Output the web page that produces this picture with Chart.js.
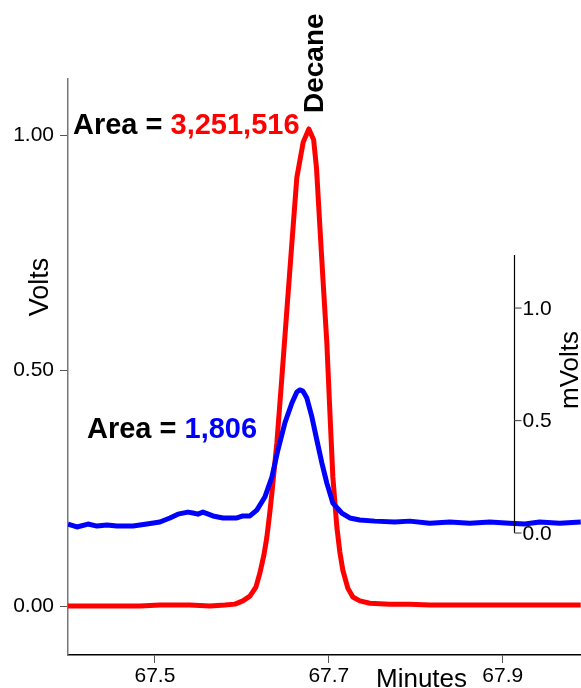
<!DOCTYPE html>
<html>
<head>
<meta charset="utf-8">
<title>Decane</title>
<script src="https://cdn.jsdelivr.net/npm/chart.js@4.4.0/dist/chart.umd.min.js"></script>
<style>
  html, body { margin: 0; padding: 0; background: #fff; }
  #chart { display: block; }
</style>
</head>
<body>
<canvas id="chart" width="581" height="688"></canvas>
<script>
// Red trace: Volts vs retention time (minutes)
const redTime = [67.400, 67.4368, 67.4828, 67.5057, 67.5402, 67.5632, 67.5805, 67.5920, 67.6011, 67.6092,
                 67.6161, 67.6207, 67.6253, 67.6287, 67.6322, 67.6345, 67.6402, 67.6460, 67.6517, 67.6575,
                 67.6632, 67.6705, 67.6770, 67.6825, 67.6858, 67.6897, 67.6931, 67.6977, 67.7011, 67.7046,
                 67.7092, 67.7126, 67.7161, 67.7218, 67.7276, 67.7356, 67.7471, 67.7701, 67.7931, 67.8161,
                 67.8736, 67.9310, 67.9897];
const redVolts = [0.000, 0.000, 0.000, 0.002, 0.002, 0.000, 0.002, 0.004, 0.011, 0.021,
                  0.040, 0.070, 0.108, 0.146, 0.200, 0.240, 0.346, 0.486, 0.628, 0.771,
                  0.910, 0.985, 1.013, 0.990, 0.930, 0.805, 0.698, 0.558, 0.416, 0.274,
                  0.168, 0.115, 0.076, 0.038, 0.019, 0.011, 0.006, 0.004, 0.004, 0.002,
                  0.002, 0.002, 0.002];

// Blue trace: mVolts vs retention time (minutes)
const blueTime = [67.4000, 67.4103, 67.4230, 67.4333, 67.4448, 67.4563, 67.4747, 67.4908, 67.5057, 67.5172,
                  67.5264, 67.5379, 67.5437, 67.5494, 67.5552, 67.5667, 67.5782, 67.5943, 67.6011, 67.6092,
                  67.6172, 67.6264, 67.6345, 67.6414, 67.6494, 67.6575, 67.6632, 67.6667, 67.6701, 67.6747,
                  67.6805, 67.6862, 67.6920, 67.6977, 67.7046, 67.7149, 67.7241, 67.7356, 67.7529, 67.7759,
                  67.7931, 67.8161, 67.8391, 67.8621, 67.8851, 67.9080, 67.9253, 67.9425, 67.9655, 67.9897];
const blueMv = [0.040, 0.027, 0.040, 0.031, 0.036, 0.031, 0.031, 0.040, 0.049, 0.067,
                0.084, 0.093, 0.089, 0.084, 0.093, 0.076, 0.067, 0.067, 0.076, 0.076,
                0.102, 0.160, 0.249, 0.369, 0.489, 0.578, 0.627, 0.636, 0.631, 0.600,
                0.516, 0.413, 0.311, 0.222, 0.133, 0.089, 0.067, 0.058, 0.053, 0.049,
                0.053, 0.044, 0.049, 0.044, 0.049, 0.044, 0.040, 0.049, 0.044, 0.049];

const minuteTicks = [67.5, 67.7, 67.9];
const voltTicks = [0, 0.5, 1.0];
const mvTicks = [0, 0.5, 1.0];

const peakName = 'Decane';
const redArea = '3,251,516';
const blueArea = '1,806';

const FONT = "'Liberation Sans', Arial, Helvetica, sans-serif";
const RED = '#ff0000';
const BLUE = '#0000ff';

// where the mVolts axis sits (in minutes) and how far up it runs (in mV)
const mvAxisAt = 67.9126;
const mvAxisTop = 1.236;

Chart.defaults.font.family = FONT;
Chart.defaults.color = '#000';

const toPoints = (xs, ys) => xs.map((x, i) => ({ x, y: ys[i] }));

// Draws the inner mVolts axis, axis titles and peak labels
const decorations = {
    id: 'decorations',
    afterDraw(chart) {
        const { ctx, scales: { x, y2 } } = chart;
        ctx.save();

        // mVolts axis inside the plot
        const ax = Math.round(x.getPixelForValue(mvAxisAt)) + 0.5;
        ctx.strokeStyle = '#000';
        ctx.lineWidth = 1.2;
        ctx.beginPath();
        ctx.moveTo(ax, y2.getPixelForValue(mvAxisTop));
        ctx.lineTo(ax, y2.getPixelForValue(0));
        ctx.stroke();
        ctx.strokeStyle = '#555';
        ctx.font = '21px ' + FONT;
        ctx.textAlign = 'left';
        ctx.textBaseline = 'middle';
        mvTicks.forEach(v => {
            const py = y2.getPixelForValue(v);
            ctx.beginPath();
            ctx.moveTo(ax, py);
            ctx.lineTo(ax + 7, py);
            ctx.stroke();
            ctx.fillText(v.toFixed(1), ax + 8, py + 1);
        });

        // rotated axis titles
        const vertical = (text, px, py, size) => {
            ctx.save();
            ctx.translate(px, py);
            ctx.rotate(-Math.PI / 2);
            ctx.font = size + 'px ' + FONT;
            ctx.textAlign = 'center';
            ctx.textBaseline = 'alphabetic';
            ctx.fillText(text, 0, 0);
            ctx.restore();
        };
        vertical('Volts', 48, 287, 27);
        vertical('mVolts', 578, 370, 26);

        ctx.font = '26px ' + FONT;
        ctx.textAlign = 'left';
        ctx.textBaseline = 'alphabetic';
        ctx.fillText('Minutes', 376, 687);

        // peak name, reading upwards
        ctx.save();
        ctx.translate(323, 113);
        ctx.rotate(-Math.PI / 2);
        ctx.font = 'bold 28px ' + FONT;
        ctx.fillText(peakName, 0, 0);
        ctx.restore();

        // area labels
        const areaLabel = (px, py, value, color) => {
            ctx.font = 'bold 29px ' + FONT;
            ctx.fillStyle = '#000';
            ctx.fillText('Area = ', px, py);
            const w = ctx.measureText('Area = ').width;
            ctx.fillStyle = color;
            ctx.fillText(value, px + w, py);
        };
        areaLabel(73, 134, redArea, RED);
        areaLabel(87, 438, blueArea, BLUE);

        ctx.restore();
    }
};

new Chart(document.getElementById('chart'), {
    type: 'line',
    data: {
        datasets: [
            { data: toPoints(blueTime, blueMv), yAxisID: 'y2', borderColor: BLUE, borderWidth: 5,
              pointRadius: 0, tension: 0, borderJoinStyle: 'round' },
            { data: toPoints(redTime, redVolts), yAxisID: 'y', borderColor: RED, borderWidth: 5,
              pointRadius: 0, tension: 0, borderJoinStyle: 'round' }
        ]
    },
    options: {
        responsive: false,
        animation: false,
        devicePixelRatio: 1,
        layout: { padding: { top: 79, right: 0, left: 0, bottom: 0 } },
        plugins: { legend: { display: false }, tooltip: { enabled: false } },
        scales: {
            x: {
                type: 'linear', min: 67.4, max: 67.99,
                afterBuildTicks: s => { s.ticks = minuteTicks.map(v => ({ value: v })); },
                afterFit: s => { s.height = 33; },
                grid: { drawOnChartArea: false, tickLength: 8, tickColor: '#555' },
                border: { color: '#000', width: 1.5 },
                ticks: { font: { size: 21 }, padding: 1, maxRotation: 0, callback: v => v.toFixed(1) }
            },
            y: {
                min: -0.104, max: 1.119,
                afterBuildTicks: s => { s.ticks = voltTicks.map(v => ({ value: v })); },
                afterFit: s => { s.width = 68; },
                grid: { drawOnChartArea: false, tickLength: 8, tickColor: '#555' },
                border: { color: '#777', width: 1.5 },
                ticks: { font: { size: 21 }, padding: 6, callback: v => v.toFixed(2) }
            },
            y2: { display: false, position: 'right', min: -0.542, max: 2.018 }
        }
    },
    plugins: [decorations]
});
</script>
</body>
</html>
